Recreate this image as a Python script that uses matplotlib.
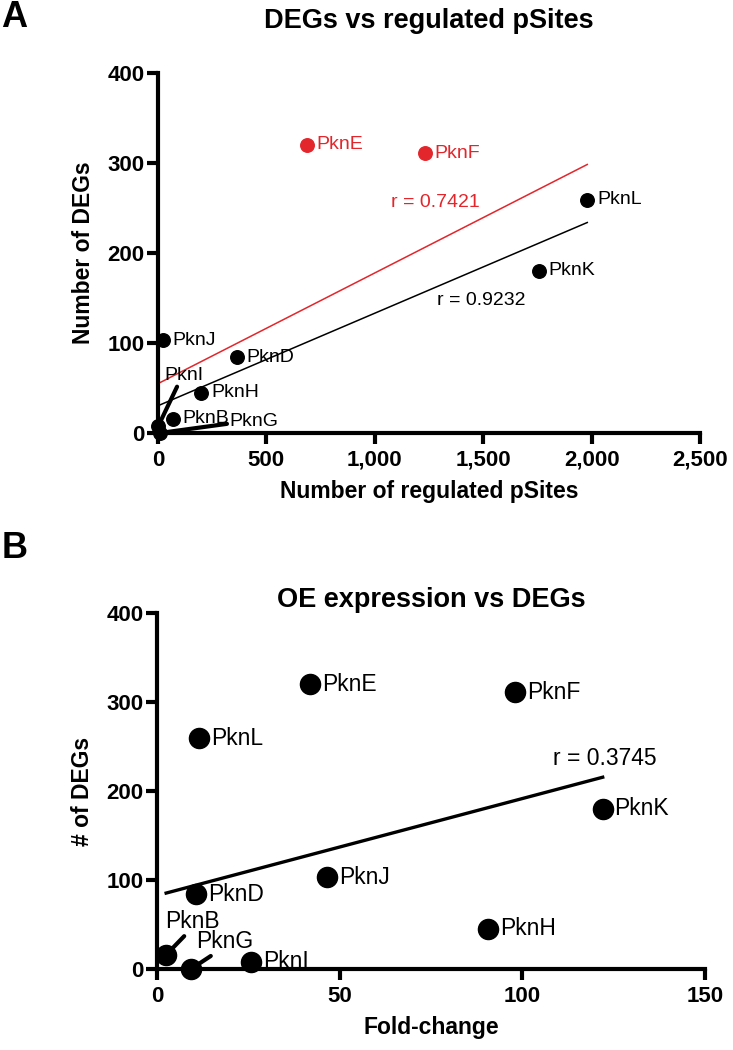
import numpy as np
import matplotlib
matplotlib.use("Agg")
import matplotlib.pyplot as plt
from matplotlib.ticker import FuncFormatter

plt.rcParams['font.family'] = ['Liberation Sans', 'DejaVu Sans']

# data
kinases = ["PknE", "PknF", "PknL", "PknK", "PknJ", "PknD", "PknH", "PknB", "PknI", "PknG"]
degs = [320, 311, 259, 180, 103, 84, 45, 16, 8, 0]
psites = [687, 1232, 1980, 1757, 23, 364, 200, 69, 2, 8]
fold_change = [42, 98, 11.6, 122, 46.5, 10.7, 90.6, 2.5, 25.7, 9.3]
red_kinases = ["PknE", "PknF"]   # left out of the black fit
r_all_a = "r = 0.7421"
r_sub_a = "r = 0.9232"
r_b = "r = 0.3745"

RED = "#e3262b"

x_a = np.array(psites, dtype=float)
y = np.array(degs, dtype=float)
x_b = np.array(fold_change, dtype=float)
is_red = np.array([k in red_kinases for k in kinases])

fig = plt.figure(figsize=(7.33, 10.5), dpi=100)
ax_a = fig.add_axes([0.2155, 0.5876, 0.7395, 0.3429])
ax_b = fig.add_axes([0.2142, 0.0771, 0.7476, 0.3391])


def style_axes(ax):
    for side in ["top", "right"]:
        ax.spines[side].set_visible(False)
    for side in ["left", "bottom"]:
        ax.spines[side].set_linewidth(3)
    ax.tick_params(width=3, length=8, labelsize=16)
    ax.tick_params(axis="x", pad=4)
    ax.tick_params(axis="y", pad=1.5)
    for lab in ax.get_xticklabels() + ax.get_yticklabels():
        lab.set_fontweight("bold")


# ---- panel A ----
ax_a.set_xlim(0, 2500)
ax_a.set_ylim(0, 400)
ax_a.set_xticks([0, 500, 1000, 1500, 2000, 2500])
ax_a.set_yticks([0, 100, 200, 300, 400])
ax_a.xaxis.set_major_formatter(FuncFormatter(lambda v, p: "{:,.0f}".format(v)))
style_axes(ax_a)

# regression lines
fit_all = np.polyfit(x_a, y, 1)
xs = np.array([x_a.min(), x_a.max()])
ax_a.plot(xs, np.polyval(fit_all, xs), color=RED, lw=1.1, zorder=2)
fit_sub = np.polyfit(x_a[~is_red], y[~is_red], 1)
xs2 = np.array([x_a[~is_red].min(), x_a[~is_red].max()])
ax_a.plot(xs2, np.polyval(fit_sub, xs2), color="black", lw=1.1, zorder=2)

ax_a.scatter(x_a[~is_red], y[~is_red], s=95, color="black", zorder=4, clip_on=False)
ax_a.scatter(x_a[is_red], y[is_red], s=95, color=RED, zorder=4, clip_on=False)

leader_a = {"PknI": (31, 64, (0.35, 0)), "PknG": (331, 12.5, (0, 0.4))}
for k, xv, yv, red in zip(kinases, x_a, y, is_red):
    col = RED if red else "black"
    if k in leader_a:
        tx, ty, rp = leader_a[k]
        ax_a.annotate(k, xy=(xv, yv), xytext=(tx, ty), fontsize=14, color=col,
                      va="center", ha="left",
                      arrowprops=dict(arrowstyle="-", lw=3, color="black",
                                      shrinkA=0, shrinkB=0, relpos=rp),
                      zorder=3)
    else:
        ax_a.annotate(k, xy=(xv, yv), xytext=(7, 0), textcoords="offset points",
                      fontsize=14, color=col, va="center", ha="left", zorder=5)

ax_a.text(1076, 256, r_all_a, color=RED, fontsize=14, va="center", ha="left")
ax_a.text(1285, 147, r_sub_a, color="black", fontsize=14, va="center", ha="left")

ax_a.set_xlabel("Number of regulated pSites", fontsize=16.5, fontweight="bold", labelpad=7)
ax_a.set_ylabel("Number of DEGs", fontsize=16.5, fontweight="bold", labelpad=9)

# ---- panel B ----
ax_b.set_xlim(0, 150)
ax_b.set_ylim(0, 400)
ax_b.set_xticks([0, 50, 100, 150])
ax_b.set_yticks([0, 100, 200, 300, 400])
style_axes(ax_b)

fit_b = np.polyfit(x_b, y, 1)
xs3 = np.array([x_b.min(), x_b.max()])
ax_b.plot(xs3, np.polyval(fit_b, xs3), color="black", lw=2.4, zorder=2)
ax_b.scatter(x_b, y, s=210, color="black", zorder=4, clip_on=False)

leader_b = {"PknB": (2.2, 53, (0.4, 0)), "PknG": (10.7, 30.7, (0.33, 0))}
for k, xv, yv in zip(kinases, x_b, y):
    if k in leader_b:
        tx, ty, rp = leader_b[k]
        ax_b.annotate(k, xy=(xv, yv), xytext=(tx, ty), fontsize=16.5, color="black",
                      va="center", ha="left",
                      arrowprops=dict(arrowstyle="-", lw=3, color="black",
                                      shrinkA=0, shrinkB=0, relpos=rp),
                      zorder=3)
    else:
        ax_b.annotate(k, xy=(xv, yv), xytext=(8.5, 0), textcoords="offset points",
                      fontsize=16.5, color="black", va="center", ha="left", zorder=5)

ax_b.text(108.4, 236.7, r_b, fontsize=16.5, va="center", ha="left")

ax_b.set_xlabel("Fold-change", fontsize=16.5, fontweight="bold", labelpad=7)
ax_b.set_ylabel("# of DEGs", fontsize=16.5, fontweight="bold", labelpad=9)

# titles and panel letters
fig.text(0.585, 0.980, "DEGs vs regulated pSites", fontsize=19.5, fontweight="bold",
         ha="center", va="center")
fig.text(0.588, 0.4286, "OE expression vs DEGs", fontsize=19.5, fontweight="bold",
         ha="center", va="center")
fig.text(0.002, 0.983, "A", fontsize=26, fontweight="bold", va="center", ha="left")
fig.text(0.002, 0.478, "B", fontsize=26, fontweight="bold", va="center", ha="left")

fig.savefig("out.png", dpi=100)
